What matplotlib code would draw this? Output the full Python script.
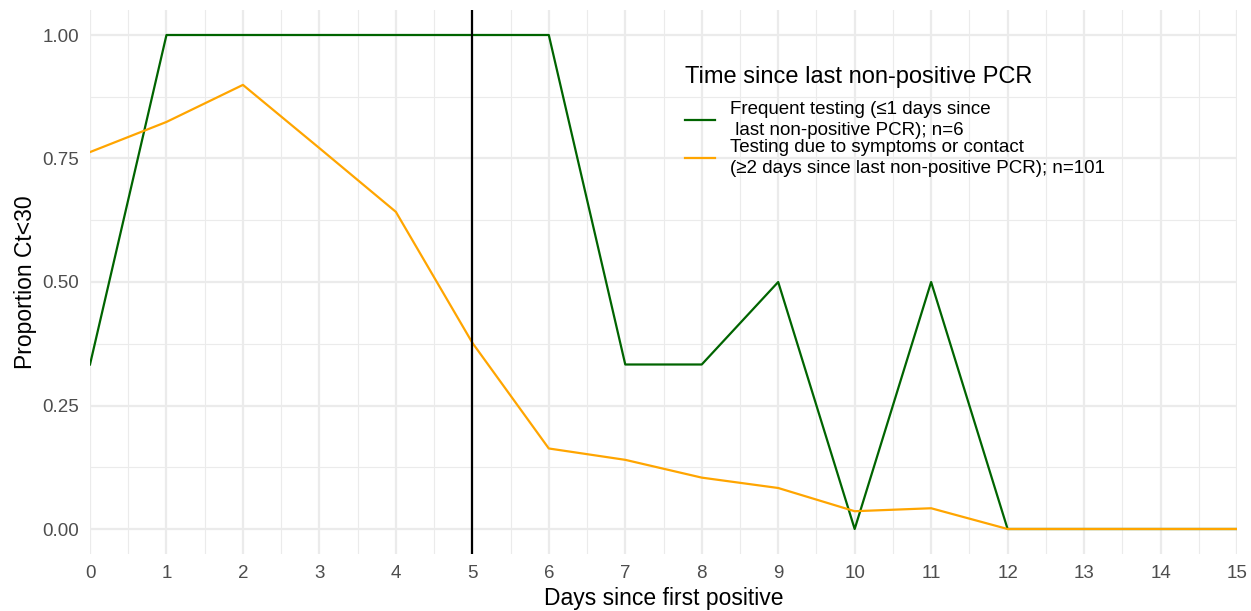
import matplotlib.pyplot as plt
import numpy as np
from matplotlib.ticker import MultipleLocator

plt.rcParams['font.family'] = ['Liberation Sans', 'DejaVu Sans']

# --- данные ---
days = list(range(16))
frequent = [0.333, 1, 1, 1, 1, 1, 1, 0.333, 0.333, 0.5, 0, 0.5, 0, 0, 0, 0]
symptoms = [0.763, 0.824, 0.899, 0.771, 0.642, 0.377, 0.163, 0.140, 0.104, 0.083,
            0.036, 0.042, 0, 0, 0, 0]
x_ticks = list(range(16))
y_ticks = [0, 0.25, 0.5, 0.75, 1.0]
y_tick_labels = ['0.00', '0.25', '0.50', '0.75', '1.00']
cutoff_day = 5

label_frequent = 'Frequent testing (≤1 days since\n last non-positive PCR); n=6'
label_symptoms = 'Testing due to symptoms or contact\n(≥2 days since last non-positive PCR); n=101'
legend_title = 'Time since last non-positive PCR'

W, H = 1251, 611
fig = plt.figure(figsize=(W / 100, H / 100), dpi=100)
ax = fig.add_axes([90 / W, (H - 553.7) / H, (1237 - 90) / W, (553.7 - 10.3) / H])

ax.plot(days, frequent, color='#006400', lw=1.6, label=label_frequent)
ax.plot(days, symptoms, color='#FFA500', lw=1.6, label=label_symptoms)
ax.axvline(cutoff_day, color='black', lw=1.6)

ax.set_xlim(0, 15)
ax.set_ylim(-0.05, 1.05)
ax.set_xticks(x_ticks)
ax.set_yticks(y_ticks)
ax.set_yticklabels(y_tick_labels)
ax.xaxis.set_minor_locator(MultipleLocator(0.5))
ax.yaxis.set_minor_locator(MultipleLocator(0.125))
ax.grid(which='major', color='#EBEBEB', lw=1.6)
ax.grid(which='minor', color='#EBEBEB', lw=0.8)
ax.set_axisbelow(True)
for s in ax.spines.values():
    s.set_visible(False)
ax.tick_params(which='both', length=0, labelsize=13.5, labelcolor='#4D4D4D')
ax.tick_params(axis='x', pad=8)
ax.tick_params(axis='y', pad=8)

ax.set_xlabel('Days since first positive', fontsize=16.5, labelpad=4)
ax.set_ylabel('Proportion Ct<30', fontsize=16.5, labelpad=4)

leg = ax.legend(title=legend_title, loc='upper left',
                bbox_to_anchor=(676 / W, (H - 57) / H), bbox_transform=fig.transFigure,
                frameon=False, fontsize=13.5, title_fontsize=17, alignment='left',
                handlelength=1.6, handletextpad=0.8, labelspacing=0.0, borderpad=0)
plt.setp(leg.get_texts(), linespacing=1.3)
# отступ между заголовком легенды и элементами
leg._legend_box.sep = 9

fig.savefig('out.png', dpi=100)
